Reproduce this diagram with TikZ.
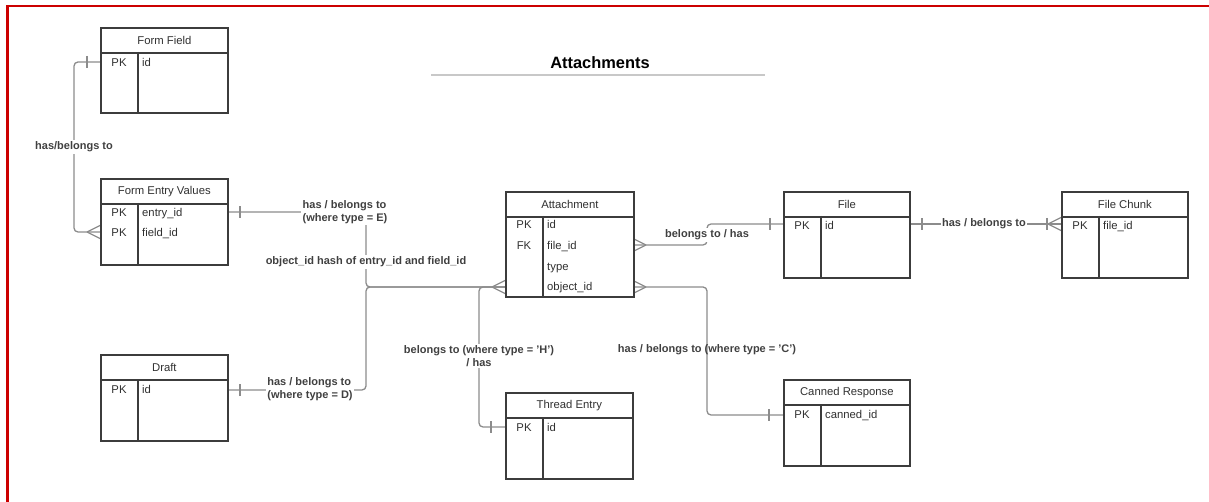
\documentclass[tikz,border=0pt]{standalone}
\usepackage{fontspec}
\setmainfont{Liberation Sans}
\usetikzlibrary{calc}
\definecolor{bordred}{HTML}{CC0000}
\definecolor{conngray}{HTML}{8C8C8C}
\definecolor{tblline}{HTML}{3C3C3C}
\definecolor{txtgray}{HTML}{303030}
\definecolor{lblgray}{HTML}{404040}
\definecolor{rulegray}{HTML}{C8C8C8}
\newcommand{\tblfont}{\fontsize{11.3}{13}\selectfont}
\newcommand{\lblfont}{\fontsize{11}{13.5}\selectfont\bfseries}
\tikzset{
  tblbox/.style={draw=tblline, line width=1.7pt, fill=white, anchor=north west, inner sep=0pt},
  tblhead/.style={draw=tblline, line width=1.7pt, anchor=north west, inner sep=0pt, text=txtgray, font=\tblfont},
  tbldiv/.style={draw=tblline, line width=1.7pt},
  keyt/.style={text=txtgray, font=\tblfont, inner sep=0pt, text height=8.2pt, text depth=2.4pt, yshift=-1.2pt},
  fldt/.style={text=txtgray, font=\tblfont, anchor=west, inner sep=0pt, text height=8.2pt, text depth=2.4pt, yshift=-1.2pt},
  conn/.style={draw=conngray, line width=1.3pt, rounded corners=4pt},
  tick/.style={draw=conngray, line width=1.3pt},
  lbl/.style={text=lblgray, font=\lblfont, fill=white, inner sep=1.5pt},
  lblclear/.style={text=lblgray, font=\lblfont, inner sep=1.5pt},
  crowfoot/.pic={\draw[tick] (-13,0) -- (0,6.5) (-13,0) -- (0,-6.5);},
  onebar/.pic={\draw[tick] (-13,-6) -- (-13,6);},
  onebarfar/.pic={\draw[tick] (-14,-6) -- (-14,6);},
}
% name, left, top, width, height, title
\newcommand{\ertbl}[6]{%
  \node[tblbox, minimum width=#4, minimum height=#5] (#1) at (#2,#3) {};
  \node[tblhead, minimum width=#4, minimum height=25] (#1-h) at (#2,#3) {#6};
  \draw[tbldiv] ($(#1.north west)+(38,25)$) -- ($(#1.south west)+(38,0)$);
}
\begin{document}
\begin{tikzpicture}[x=1pt, y=-1pt]
\useasboundingbox (0,0) rectangle (1209,502);
% frame
\draw[bordred, line width=2.5pt] (7.5,502) -- (7.5,6) -- (1209,6);

% title
\node[text=black, font=\fontsize{16.4}{18}\selectfont\bfseries] (title) at (600,63) {Attachments};
\coordinate (ruleL) at (431,75);
\coordinate (ruleR) at (765,75);
\draw[rulegray, line width=1.6pt] (ruleL) -- (ruleR);

% connection points
\coordinate (ffL) at (100,62);
\coordinate (fevL) at (100,232);
\coordinate (fevR) at (227,212);
\coordinate (drR) at (227,390);
\coordinate (teL) at (505,427);
\coordinate (attL) at (505,287);
\coordinate (attFile) at (633,245);
\coordinate (attObj) at (633,287);
\coordinate (fileL) at (783,224);
\coordinate (fileR) at (909,224);
\coordinate (fcL) at (1061,224);
\coordinate (crL) at (783,415);

% connectors
\draw[conn] (ffL) -- (74,62) -- (74,232) -- (fevL);
\draw[conn] (fevR) -- (366,212) -- (366,287) -- (attL);
\draw[conn] (drR) -- (366,390) -- (366,287) -- (attL);
\draw[conn] (teL) -- (479,427) -- (479,287) -- (attL);
\draw[conn] (attFile) -- (707,245) -- (707,224) -- (fileL);
\draw[conn] (attObj) -- (707,287) -- (707,415) -- (crL);
\draw[conn] (fileR) -- (fcL);

% end marks
\pic at (ffL) {onebar};
\pic at (fevL) {crowfoot};
\pic[rotate=180] at (fevR) {onebar};
\pic[rotate=180] at (drR) {onebar};
\pic at (teL) {onebarfar};
\pic at (attL) {crowfoot};
\pic[rotate=180] at (attFile) {crowfoot};
\pic[rotate=180] at (attObj) {crowfoot};
\pic at (fileL) {onebar};
\pic[rotate=180] at (fileR) {onebar};
\pic at (fcL) {crowfoot};
\pic at (fcL) {onebarfar};
\pic at (crL) {onebarfar};

% tables
\ertbl{ff}{100}{27}{127}{85}{Form Field}
\node[keyt] (ff-k1) at (119,62) {PK};
\node[fldt] (ff-f1) at (142,62) {id};

\ertbl{fev}{100}{178}{127}{86}{Form Entry Values}
\node[keyt] (fev-k1) at (119,212) {PK};
\node[fldt] (fev-f1) at (142,212) {entry\_id};
\node[keyt] (fev-k2) at (119,232) {PK};
\node[fldt] (fev-f2) at (142,232) {field\_id};

\ertbl{dr}{100}{354}{127}{86}{Draft}
\node[keyt] (dr-k1) at (119,389) {PK};
\node[fldt] (dr-f1) at (142,389) {id};

\ertbl{att}{505}{191}{128}{105}{Attachment}
\node[keyt] (att-k1) at (524,224) {PK};
\node[fldt] (att-f1) at (547,224) {id};
\node[keyt] (att-k2) at (524,245) {FK};
\node[fldt] (att-f2) at (547,245) {file\_id};
\node[fldt] (att-f3) at (547,266) {type};
\node[fldt] (att-f4) at (547,286) {object\_id};

\ertbl{te}{505}{392}{127}{86}{Thread Entry}
\node[keyt] (te-k1) at (524,427) {PK};
\node[fldt] (te-f1) at (547,427) {id};

\ertbl{file}{783}{191}{126}{86}{File}
\node[keyt] (file-k1) at (802,225) {PK};
\node[fldt] (file-f1) at (825,225) {id};

\ertbl{fc}{1061}{191}{126}{86}{File Chunk}
\node[keyt] (fc-k1) at (1080,225) {PK};
\node[fldt] (fc-f1) at (1103,225) {file\_id};

\ertbl{cr}{783}{379}{126}{86}{Canned Response}
\node[keyt] (cr-k1) at (802,414) {PK};
\node[fldt] (cr-f1) at (825,414) {canned\_id};

% labels
\node[lbl] (l1) at (74,147) {has/belongs to};
\node[lbl, align=left] (l2) at (345,212) {has / belongs to\\(where type = E)};
\node[lbl] (l3) at (366,262) {object\_id hash of entry\_id and field\_id};
\node[lbl, align=left] (l4) at (310,389) {has / belongs to\\(where type = D)};
\node[lbl, align=center] (l5) at (479,356) {belongs to (where type = 'H')\\/ has};
\node[lbl] (l6) at (707,235) {belongs to / has};
\node[lblclear] (l7) at (707,350) {has / belongs to (where type = 'C')};
\node[lbl] (l8) at (984,224) {has / belongs to};
\end{tikzpicture}
\end{document}
